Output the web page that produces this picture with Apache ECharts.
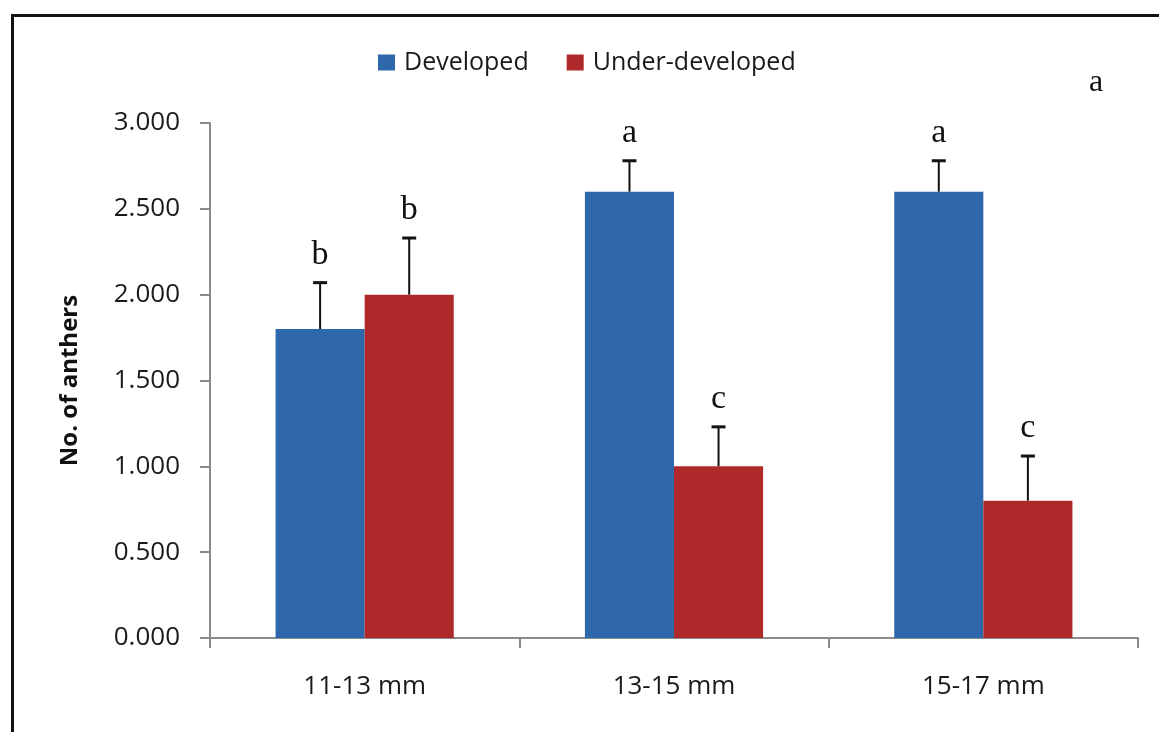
<!DOCTYPE html>
<html>
<head>
<meta charset="utf-8">
<script src="https://cdn.jsdelivr.net/npm/echarts@6/dist/echarts.min.js"></script>
<style>
html,body{margin:0;padding:0;background:#fff;}
#chart{width:1159px;height:732px;}
</style>
</head>
<body>
<div id="chart"></div>
<script>
var categories = ['11-13 mm', '13-15 mm', '15-17 mm'];
var seriesNames = ['Developed', 'Under-developed'];
var developed = [1.8, 2.6, 2.6];
var underDeveloped = [2.0, 1.0, 0.8];
var developedErr = [0.27, 0.18, 0.18];
var underDevelopedErr = [0.33, 0.23, 0.26];
var developedLetters = ['b', 'a', 'a'];
var underDevelopedLetters = ['b', 'c', 'c'];
var yTicks = [0, 0.5, 1.0, 1.5, 2.0, 2.5, 3.0];

var BLUE = '#2E67AA';
var RED = '#B0292A';
var BAR_FRAC = 0.288;
var SANS = '"Open Sans", Lato, sans-serif';
var SERIF = '"Liberation Serif", "DejaVu Serif", serif';

function errData(vals, errs) {
  return vals.map(function (v, i) { return [i, v, v + errs[i]]; });
}

function makeErrSeries(vals, errs, letters, side) {
  return {
    type: 'custom',
    name: 'err' + side,
    silent: true,
    z: 5,
    data: errData(vals, errs),
    renderItem: function (params, api) {
      var ci = api.value(0);
      var base = api.coord([ci, api.value(1)]);
      var top = api.coord([ci, api.value(2)]);
      var catW = api.size([1, 0])[0];
      var x = base[0] + side * catW * BAR_FRAC / 2;
      var capHalf = 7;
      return {
        type: 'group',
        children: [
          { type: 'line', shape: { x1: x, y1: base[1], x2: x, y2: top[1] },
            style: { stroke: '#111', lineWidth: 2 } },
          { type: 'line', shape: { x1: x - capHalf, y1: top[1], x2: x + capHalf, y2: top[1] },
            style: { stroke: '#111', lineWidth: 3 } },
          { type: 'text', x: x, y: top[1] - 11,
            style: { text: letters[params.dataIndex], fill: '#111',
              font: '34px ' + SERIF, align: 'center', verticalAlign: 'bottom' } }
        ]
      };
    }
  };
}

var chart = echarts.init(document.getElementById('chart'), null, { renderer: 'canvas' });
chart.setOption({
  backgroundColor: '#fff',
  animation: false,
  grid: { left: 210, right: 21, top: 123, bottom: 94 },
  legend: {
    data: seriesNames,
    left: 373, top: 45,
    icon: 'rect',
    itemWidth: 17, itemHeight: 16,
    itemGap: 38,
    textStyle: { fontFamily: SANS, fontSize: 25, color: '#1a1a1a', padding: [0, 0, 0, 4] }
  },
  xAxis: {
    type: 'category',
    data: categories,
    boundaryGap: true,
    axisLine: { lineStyle: { color: '#8a8a8a', width: 2 } },
    axisTick: { show: true, length: 10, lineStyle: { color: '#8a8a8a', width: 2 } },
    axisLabel: { fontFamily: SANS, fontSize: 26, color: '#1a1a1a', margin: 36 }
  },
  yAxis: {
    type: 'value',
    min: 0, max: 3, interval: 0.5,
    name: 'No. of anthers',
    nameLocation: 'middle',
    nameGap: 128,
    nameRotate: 90,
    nameTextStyle: { fontFamily: SANS, fontSize: 24, fontWeight: 'bold', color: '#111' },
    axisLine: { show: true, lineStyle: { color: '#8a8a8a', width: 2 } },
    axisTick: { show: true, length: 10, lineStyle: { color: '#8a8a8a', width: 2 } },
    splitLine: { show: false },
    axisLabel: {
      fontFamily: SANS, fontSize: 26, color: '#1a1a1a', margin: 30,
      formatter: function (v) { return v.toFixed(3); }
    }
  },
  series: [
    { type: 'bar', name: seriesNames[0], data: developed, barWidth: (BAR_FRAC * 100) + '%',
      barGap: '0%', itemStyle: { color: BLUE } },
    { type: 'bar', name: seriesNames[1], data: underDeveloped, barWidth: (BAR_FRAC * 100) + '%',
      barGap: '0%', itemStyle: { color: RED } },
    makeErrSeries(developed, developedErr, developedLetters, -1),
    makeErrSeries(underDeveloped, underDevelopedErr, underDevelopedLetters, 1)
  ],
  graphic: [
    { type: 'rect', left: 10, top: 13, shape: { width: 1220, height: 800 },
      style: { fill: 'none', stroke: '#111', lineWidth: 3 }, silent: true },
    { type: 'text', left: 1089, top: 67,
      style: { text: 'a', font: '32px ' + SERIF, fill: '#111' } }
  ]
});
</script>
</body>
</html>
